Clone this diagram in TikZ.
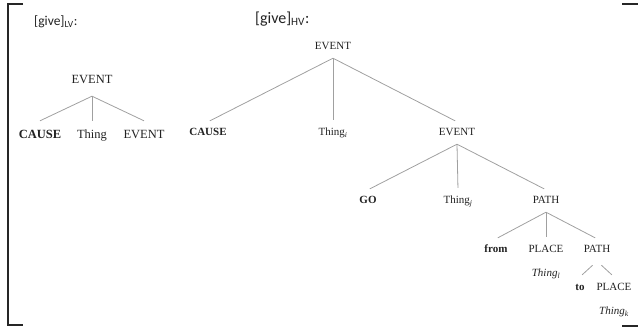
\documentclass[tikz,border=0pt]{standalone}
\usepackage{fontspec}
\setmainfont{Liberation Serif}
\newfontfamily\labfont{Carlito}
\definecolor{txt}{HTML}{222222}
\definecolor{linegray}{HTML}{A0A0A0}
\begin{document}
\begin{tikzpicture}[x=1pt,y=-1pt,
  lv/.style={font=\fontsize{12.5}{14}\selectfont, text height=8.5pt, text depth=2.5pt, inner xsep=0pt, inner ysep=9.5pt, text=txt},
  hv/.style={font=\fontsize{11}{13}\selectfont, text height=7pt, text depth=2pt, inner xsep=0pt, inner ysep=6.5pt, text=txt},
  lab/.style={font=\labfont, text=txt, inner sep=0pt, anchor=west},
  brk/.style={line width=2pt, draw=black!85},
  edge/.style={draw=linegray, line width=0.8pt},
  hedge/.style={edge, shorten >=2pt}]
\useasboundingbox (0,0) rectangle (638,329);
% brackets
\draw[brk] (23,4) -- (8,4) -- (8,325) -- (23,325);
\draw[brk] (622,4) -- (638,4);
\draw[brk] (622,326) -- (638,326);
% labels
\node[lab, font=\labfont\fontsize{13.5}{15}\selectfont] (lablv) at (34,22) {[give]\textsubscript{LV}:};
\node[lab, font=\labfont\fontsize{16}{18}\selectfont] (labhv) at (255,19) {[give]\textsubscript{HV}:};
% LV tree
\node[lv] (ev1) at (92,81) {EVENT};
\node[lv, font=\fontsize{12.5}{14}\selectfont\bfseries] (cause1) at (40,136) {CAUSE};
\node[lv] (thing1) at (92,136) {Thing};
\node[lv] (ev1b) at (144,136) {EVENT};
\draw[edge] (ev1.south) -- (cause1.north);
\draw[edge] (ev1.south) -- (thing1.north);
\draw[edge] (ev1.south) -- (ev1b.north);
% HV tree
\node[hv] (ev2) at (333,47) {EVENT};
\node[hv, font=\fontsize{11}{13}\selectfont\bfseries] (cause2) at (208,133) {CAUSE};
\node[hv] (thingi) at (333,133) {Thing\textsubscript{\textit{i}}};
\node[hv] (ev3) at (457,133) {EVENT};
\draw[hedge] (ev2.south) -- (cause2.north);
\draw[hedge] (ev2.south) -- (thingi.north);
\draw[hedge] (ev2.south) -- (ev3.north);
\node[hv, font=\fontsize{11}{13}\selectfont\bfseries] (go) at (368,201) {GO};
\node[hv] (thingj) at (458,201) {Thing\textsubscript{\textit{j}}};
\node[hv] (path1) at (546,201) {PATH};
\draw[hedge] (ev3.south) -- (go.north);
\draw[hedge] (ev3.south) -- (thingj.north);
\draw[hedge] (ev3.south) -- (path1.north);
\node[hv, font=\fontsize{11}{13}\selectfont\bfseries] (from) at (496,250) {from};
\node[hv] (place1) at (546,250) {PLACE};
\node[hv] (path2) at (597,250) {PATH};
\draw[hedge] (path1.south) -- (from.north);
\draw[hedge] (path1.south) -- (place1.north);
\draw[hedge] (path1.south) -- (path2.north);
\node[hv, font=\fontsize{11}{13}\selectfont\itshape] (thingl) at (546,274) {Thing\textsubscript{l}};
\node[hv, font=\fontsize{11}{13}\selectfont\bfseries] (to) at (580,288) {to};
\node[hv, font=\fontsize{11}{13}\selectfont] (place2) at (614,288) {PLACE};
\draw[edge, shorten <=6pt, shorten >=3pt] (path2.south) -- (to.north);
\draw[edge, shorten <=6pt, shorten >=3pt] (path2.south) -- (place2.north);
\node[hv, font=\fontsize{11}{13}\selectfont\itshape] (thingk) at (614,312) {Thing\textsubscript{k}};
\end{tikzpicture}
\end{document}
